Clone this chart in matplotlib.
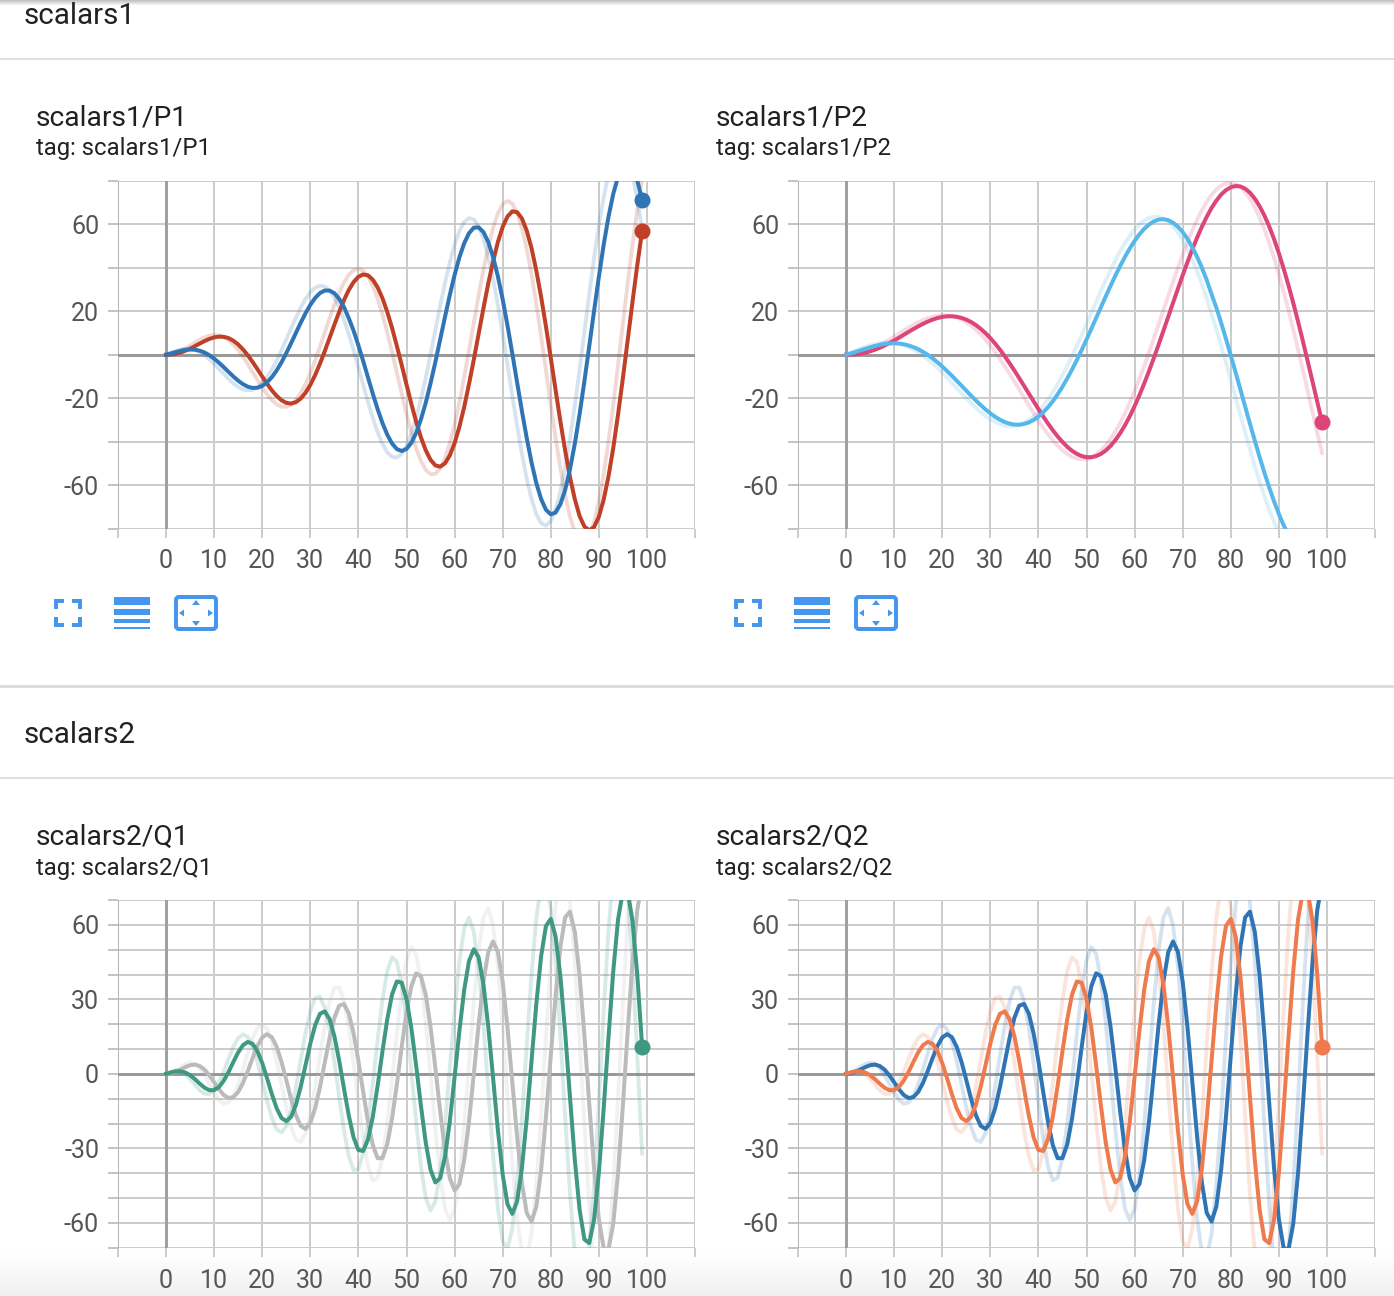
import numpy as np
import matplotlib
matplotlib.use('Agg')
import matplotlib.pyplot as plt
from matplotlib.patches import Rectangle, Polygon, FancyBboxPatch

plt.rcParams['font.family'] = ['Roboto', 'DejaVu Sans']

steps = list(range(100))

# scalars1/P1 raw and smoothed values
p1_red_raw = [0, .2, .8, 1.7, 2.9, 4.2, 5.6, 6.9, 8.0, 8.8, 9.1, 8.9, 8.1, 6.7, 4.7, 2.1, -.9, -4.4, -8.0, -11.6,
              -15.1, -18.3, -20.9, -22.9, -23.9, -24.0, -23.0, -20.9, -17.7, -13.5, -8.4, -2.6, 3.7, 10.3, 16.8, 23.0, 28.6, 33.3, 36.8, 39.0,
              39.6, 38.6, 35.9, 31.6, 25.7, 18.5, 10.3, 1.2, -8.4, -17.9, -27.2, -35.7, -43.1, -48.9, -53.0, -55.0, -54.8, -52.4, -47.7, -40.9,
              -32.2, -21.8, -10.3, 2.1, 14.8, 27.3, 39.1, 49.6, 58.4, 65.1, 69.4, 70.9, 69.6, 65.3, 58.3, 48.8, 37.0, 23.3, 8.4, -7.3,
              -23.0, -38.2, -52.3, -64.6, -74.6, -81.7, -85.8, -86.4, -83.5, -77.2, -67.6, -55.0, -40.0, -23.1, -4.6, 14.3, 32.9, 50.7, 66.8, 80.5]
p1_blue_raw = [0, 1.0, 1.8, 2.5, 2.8, 2.7, 2.2, 1.2, -.2, -2.0, -4.2, -6.5, -8.8, -11.1, -13.2, -14.9, -16.0, -16.4, -16.2, -15.0,
               -13.1, -10.3, -6.8, -2.6, 2.1, 7.1, 12.2, 17.1, 21.7, 25.7, 28.8, 30.9, 31.8, 31.4, 29.6, 26.4, 21.9, 16.2, 9.4, 2.1,
               -5.8, -13.9, -21.8, -29.2, -35.7, -41.0, -44.9, -47.0, -47.3, -45.6, -42.0, -36.4, -29.2, -20.4, -10.6, .2, 11.3, 22.5, 32.9, 42.5,
               50.6, 57.0, 61.1, 62.9, 62.3, 59.0, 53.2, 45.0, 34.9, 22.8, 9.6, -4.5, -18.7, -32.6, -45.6, -57.0, -66.4, -73.4, -77.5, -78.7,
               -76.6, -71.4, -63.1, -52.2, -38.6, -23.4, -6.8, 10.5, 27.8, 44.3, 59.4, 72.5, 82.9, 90.1, 93.9, 94.0, 90.1, 82.7, 71.7, 57.6]
p1_red = [0, .13, .46, 1.03, 1.83, 2.83, 3.96, 5.16, 6.3, 7.29, 7.99, 8.35, 8.25, 7.65, 6.45, 4.71, 2.45, -.28, -3.35, -6.66,
          -10.05, -13.36, -16.4, -18.97, -20.94, -22.16, -22.47, -21.84, -20.17, -17.5, -13.84, -9.34, -4.1, 1.66, 7.71, 13.84, 19.74, 25.15, 29.84, 33.47,
          35.9, 36.98, 36.55, 34.53, 31.02, 26.01, 19.71, 12.3, 4.0, -4.74, -13.75, -22.54, -30.75, -38.02, -43.98, -48.39, -50.95, -51.53, -50.01, -46.35,
          -40.72, -33.15, -24.02, -13.51, -2.22, 9.62, 21.4, 32.74, 42.95, 51.87, 58.86, 63.64, 66.03, 65.67, 62.75, 57.15, 49.11, 38.7, 26.63, 13.05,
          -1.38, -16.1, -30.61, -44.16, -56.41, -66.48, -74.27, -79.09, -80.85, -79.35, -74.64, -66.75, -56.11, -42.9, -27.5, -10.81, 6.68, 24.3, 41.32, 56.95]
p1_blue = [0, .61, 1.24, 1.81, 2.24, 2.43, 2.32, 1.86, 1.02, -.21, -1.79, -3.67, -5.74, -7.91, -10.02, -11.96, -13.55, -14.72, -15.29, -15.18,
           -14.34, -12.72, -10.33, -7.23, -3.5, .75, 5.33, 10.05, 14.73, 19.12, 22.98, 26.16, 28.4, 29.58, 29.55, 28.3, 25.73, 21.94, 16.79, 11.03,
           4.26, -2.98, -10.51, -18.0, -25.07, -31.45, -36.8, -40.89, -43.45, -44.32, -43.36, -40.57, -36.02, -29.75, -22.13, -13.15, -3.37, 7.01, 17.36, 27.46,
           36.72, 44.84, 51.33, 55.96, 58.5, 58.66, 56.48, 51.9, 45.12, 36.11, 25.53, 13.51, .62, -12.66, -25.87, -38.32, -49.54, -59.1, -66.45, -71.36,
           -73.48, -72.66, -68.83, -62.21, -52.7, -40.98, -27.34, -12.16, 3.85, 20.04, 35.77, 50.54, 63.45, 74.08, 82.05, 86.81, 88.1, 86.0, 80.28, 71.2]

# scalars1/P2 raw and smoothed values
p2_pink_raw = [0, .1, .4, .9, 1.6, 2.4, 3.4, 4.5, 5.7, 7.0, 8.4, 9.8, 11.2, 12.5, 13.8, 15.0, 16.0, 16.9, 17.5, 18.0,
               18.2, 18.1, 17.8, 17.2, 16.2, 15.0, 13.4, 11.5, 9.4, 6.9, 4.2, 1.3, -1.9, -5.2, -8.7, -12.3, -16.0, -19.6, -23.3, -26.8,
               -30.3, -33.6, -36.6, -39.4, -41.9, -44.0, -45.7, -47.0, -47.8, -48.1, -48.0, -47.2, -45.9, -44.1, -41.7, -38.8, -35.3, -31.4, -27.0, -22.1,
               -16.7, -11.1, -5.2, 1.1, 7.5, 14.0, 20.6, 27.1, 33.6, 39.9, 46.0, 51.8, 57.2, 62.1, 66.5, 70.4, 73.6, 76.1, 77.9, 78.9,
               79.1, 78.6, 77.2, 74.9, 71.8, 67.9, 63.1, 57.7, 51.5, 44.6, 37.1, 29.0, 20.5, 11.6, 2.4, -7.1, -16.8, -26.4, -35.9, -45.3]
p2_sky_raw = [0, 1.0, 2.0, 2.9, 3.7, 4.4, 5.0, 5.4, 5.6, 5.6, 5.4, 5.0, 4.3, 3.5, 2.4, 1.1, -.5, -2.2, -4.1, -6.1,
              -8.3, -10.6, -13.0, -15.3, -17.7, -20.0, -22.3, -24.4, -26.4, -28.2, -29.7, -31.0, -31.9, -32.6, -32.9, -32.8, -32.3, -31.4, -30.1, -28.3,
              -26.2, -23.6, -20.6, -17.2, -13.5, -9.5, -5.2, -.6, 4.2, 9.1, 14.2, 19.3, 24.4, 29.4, 34.3, 39.0, 43.5, 47.6, 51.4, 54.7,
              57.6, 60.0, 61.8, 63.0, 63.6, 63.5, 62.7, 61.3, 59.1, 56.3, 52.8, 48.6, 43.8, 38.4, 32.5, 26.0, 18.7, 11.8, 4.2, -3.6,
              -11.7, -19.7, -27.8, -35.8, -43.6, -51.2, -58.4, -65.1, -71.4, -77.0, -82.0, -86.2, -89.7, -92.3, -94.0, -94.7, -94.6, -93.4, -91.2, -88.0]
p2_pink = [0, .06, .23, .53, .98, 1.57, 2.32, 3.21, 4.23, 5.37, 6.56, 7.86, 9.19, 10.53, 11.83, 13.09, 14.24, 15.28, 16.18, 16.89,
           17.41, 17.7, 17.72, 17.5, 16.97, 16.17, 15.07, 13.65, 11.94, 9.94, 7.65, 5.12, 2.33, -.69, -3.9, -7.25, -10.73, -14.28, -17.86, -21.45,
           -24.98, -28.41, -31.7, -34.77, -37.62, -40.16, -42.39, -44.22, -45.64, -46.64, -47.16, -47.18, -46.67, -45.65, -44.1, -41.97, -39.31, -36.14, -32.49, -28.3,
           -23.66, -18.66, -13.25, -7.52, -1.51, 4.68, 11.06, 17.46, 23.92, 30.31, 36.59, 42.66, 48.47, 53.9, 58.96, 63.5, 67.58, 70.94, 73.75, 75.79,
           77.11, 77.7, 77.49, 76.44, 74.6, 71.89, 68.36, 64.1, 59.05, 53.27, 46.78, 39.69, 32.02, 23.84, 15.26, 6.28, -2.98, -12.31, -21.7, -31.17]
p2_sky = [0, .62, 1.3, 2.02, 2.74, 3.43, 4.06, 4.59, 4.98, 5.23, 5.28, 5.16, 4.84, 4.29, 3.52, 2.55, 1.34, -.07, -1.67, -3.47,
          -5.41, -7.49, -9.68, -11.93, -14.23, -16.55, -18.84, -21.06, -23.18, -25.17, -26.99, -28.58, -29.92, -30.99, -31.74, -32.16, -32.22, -31.87, -31.15, -30.01,
          -28.48, -26.51, -24.13, -21.38, -18.22, -14.74, -10.89, -6.78, -2.4, 2.22, 7.02, 11.92, 16.92, 21.89, 26.85, 31.69, 36.41, 40.86, 45.08, 48.91,
          52.39, 55.43, 57.99, 59.97, 61.4, 62.23, 62.41, 61.96, 60.79, 59.0, 56.52, 53.34, 49.51, 45.08, 40.06, 34.41, 27.91, 21.69, 14.71, 7.36,
          -.28, -8.04, -15.93, -23.89, -31.76, -39.53, -47.09, -54.28, -61.11, -67.47, -73.28, -78.47, -82.96, -86.68, -89.61, -91.65, -92.83, -93.01, -92.32, -90.56]

# scalars2 charts share the same two runs, only the colours differ
q_a_raw = [0, .9, 1.4, 1.1, -.1, -2.1, -4.4, -6.6, -8.0, -8.1, -6.5, -3.4, 1.0, 6.1, 10.9, 14.4, 15.9, 14.8, 10.9, 4.7,
           -2.9, -10.9, -17.8, -22.4, -23.6, -21.0, -14.6, -5.3, 5.7, 16.5, 25.3, 30.6, 31.1, 26.6, 17.4, 4.8, -9.4, -22.8, -33.2, -38.8,
           -38.3, -31.6, -19.3, -3.4, 13.9, 29.7, 41.4, 47.0, 45.1, 35.9, 20.4, 1.1, -19.2, -37.3, -49.9, -55.0, -51.4, -39.4, -20.6, 2.2,
           25.4, 45.3, 58.6, 62.9, 57.2, 42.1, 19.7, -6.4, -32.4, -53.9, -67.4, -70.4, -62.3, -43.9, -17.9, 11.6, 40.0, 62.8, 76.2, 77.7,
           66.7, 44.9, 15.3, -17.6, -48.3, -72.2, -85.0, -84.5, -70.4, -44.9, -11.5, 24.5, 57.3, 81.7, 93.5, 90.7, 73.3, 43.8, 6.9, -32.1]
q_b_raw = [0, .4, 1.4, 2.8, 4.0, 4.5, 4.1, 2.3, -.5, -4.0, -7.6, -10.5, -12.0, -11.5, -8.8, -4.2, 1.9, 8.4, 14.3, 18.4,
           19.8, 18.0, 12.9, 5.1, -4.2, -13.6, -21.5, -26.5, -27.4, -23.9, -16.1, -5.1, 7.4, 19.5, 29.2, 34.7, 34.8, 29.2, 18.5, 4.2,
           -11.5, -26.2, -37.3, -42.9, -41.8, -33.8, -20.0, -2.3, 16.5, 33.4, 45.6, 51.0, 48.3, 37.7, 20.6, -.5, -22.3, -41.2, -54.2, -58.9,
           -54.4, -40.7, -20.3, 4.2, 28.8, 49.6, 63.0, 66.7, 59.8, 43.1, 19.0, -8.9, -36.1, -58.3, -71.8, -74.1, -64.6, -44.5, -16.7, 14.5,
           44.1, 67.5, 80.6, 81.1, 68.7, 45.0, 13.5, -20.9, -52.8, -76.9, -89.3, -87.6, -71.9, -44.5, -9.3, 28.1, 61.9, 86.5, 97.8, 93.7]
q_a = [0, .58, .99, 1.04, .53, -.56, -2.15, -3.96, -5.58, -6.58, -6.54, -5.28, -2.75, .79, 4.83, 8.66, 11.56, 12.85, 12.07, 9.12,
       4.31, -1.77, -8.18, -13.87, -17.76, -19.06, -17.27, -12.48, -5.21, 3.47, 12.2, 19.56, 24.18, 25.15, 22.05, 15.15, 5.33, -5.92, -16.83, -25.62,
       -30.69, -31.05, -26.35, -17.17, -4.74, 9.04, 21.98, 31.99, 37.23, 36.7, 30.18, 18.55, 3.45, -12.85, -27.67, -38.6, -43.72, -41.99, -33.43, -19.18,
       -1.35, 17.31, 33.83, 45.46, 50.16, 46.94, 36.04, 19.06, -1.52, -22.47, -40.44, -52.42, -56.37, -51.38, -37.99, -18.15, 5.11, 28.19, 47.39, 59.51,
       62.39, 55.39, 39.35, 16.57, -9.38, -34.51, -54.71, -66.63, -68.14, -58.84, -39.9, -14.14, 14.44, 41.34, 62.2, 73.6, 73.48, 61.61, 39.73, 11.0]
q_b = [0, .24, .85, 1.75, 2.73, 3.47, 3.73, 3.15, 1.68, -.61, -3.42, -6.24, -8.54, -9.73, -9.36, -7.29, -3.62, 1.19, 6.43, 11.22,
       14.65, 15.99, 14.75, 10.89, 4.85, -2.53, -10.12, -16.67, -20.96, -22.14, -19.72, -13.87, -5.36, 4.58, 14.43, 22.54, 27.44, 28.14, 24.28, 16.25,
       5.15, -7.39, -19.35, -28.77, -33.98, -33.91, -28.35, -17.93, -4.16, 10.86, 24.76, 35.26, 40.48, 39.37, 31.86, 18.92, 2.43, -15.02, -30.69, -41.97,
       -46.94, -44.44, -34.78, -19.19, .01, 19.85, 37.11, 48.95, 53.29, 49.21, 37.13, 18.72, -3.21, -25.25, -43.87, -55.96, -59.42, -53.45, -38.75, -17.45,
       7.17, 31.3, 51.02, 63.05, 65.31, 57.19, 39.71, 15.47, -11.84, -37.86, -58.44, -70.1, -70.82, -60.29, -39.89, -12.69, 17.15, 44.89, 66.05, 77.11]

x_ticks = list(range(-10, 120, 10))
x_labels = ['' if t < 0 or t > 100 else str(t) for t in x_ticks]

RED, BLUE = '#bf3f27', '#2f75b5'
PINK, SKY = '#dd4479', '#56b8ea'
GREEN, GRAY, ORANGE = '#3f9881', '#bbbbbb', '#ef7a4d'
ICON = '#4796ee'
W, H = 1394, 1296

fig = plt.figure(figsize=(W / 100, H / 100), dpi=100, facecolor='white')


def px(n):
    # pixel length to points
    return n * 72 / 100


def make_chart(left, top, bottom, ylim, grid_step, labelled, series, marked):
    right = left + 577
    ax = fig.add_axes([left / W, 1 - bottom / H, (right - left) / W, (bottom - top) / H])
    ax.set_xlim(-10, 110)
    ax.set_ylim(-ylim, ylim)
    for sp in ax.spines.values():
        sp.set_visible(False)
    ax.set_xticks(x_ticks)
    ax.set_xticklabels(x_labels)
    y_ticks = list(range(-ylim, ylim + 1, grid_step))
    ax.set_yticks(y_ticks)
    ax.set_yticklabels([str(t) if t in labelled else '' for t in y_ticks])
    ax.tick_params(axis='x', length=px(9), width=px(1.5), color='#bdbdbd', pad=px(12), labelsize=px(25), labelcolor='#555555')
    ax.tick_params(axis='y', length=px(10), width=px(2), color='#c4c4c4', pad=px(9), labelsize=px(25), labelcolor='#555555')
    ax.grid(True, color='#cccccc', linewidth=px(2))
    ax.set_axisbelow(True)
    ax.axvline(-10, color='#b5b5b5', lw=px(2), zorder=1)
    ax.axhline(0, color='#999999', lw=px(3), zorder=1.5)
    ax.axvline(0, color='#a0a0a0', lw=px(3), zorder=1.5)
    for raw, smooth, color in series:
        ax.plot(steps, raw, color=color, lw=px(3.8), alpha=0.2, solid_joinstyle='round', zorder=2)
    for raw, smooth, color in series:
        ax.plot(steps, smooth, color=color, lw=px(4), solid_joinstyle='round', zorder=3)
    for smooth, color in marked:
        ax.plot(steps[-1], smooth[-1], 'o', color=color, ms=px(16), mew=0, zorder=4)
    return ax


make_chart(118, 181, 528.5, 80, 20, [60, 20, -20, -60],
           [(p1_red_raw, p1_red, RED), (p1_blue_raw, p1_blue, BLUE)],
           [(p1_red, RED), (p1_blue, BLUE)])
make_chart(798, 181, 528.5, 80, 20, [60, 20, -20, -60],
           [(p2_pink_raw, p2_pink, PINK), (p2_sky_raw, p2_sky, SKY)],
           [(p2_pink, PINK)])
make_chart(118, 900, 1247.7, 70, 10, [60, 30, 0, -30, -60],
           [(q_b_raw, q_b, GRAY), (q_a_raw, q_a, GREEN)],
           [(q_a, GREEN)])
make_chart(798, 900, 1247.7, 70, 10, [60, 30, 0, -30, -60],
           [(q_b_raw, q_b, BLUE), (q_a_raw, q_a, ORANGE)],
           [(q_a, ORANGE)])

# page furniture on a full-size overlay in pixel coordinates
page = fig.add_axes([0, 0, 1, 1], zorder=5)
page.set_xlim(0, W)
page.set_ylim(H, 0)
page.axis('off')
page.patch.set_alpha(0)

# shadows along the top and bottom edges
top_fade = np.zeros((8, 1, 4))
top_fade[:, 0, :3] = 0.55
top_fade[:, 0, 3] = np.linspace(0.55, 0, 8)
page.imshow(top_fade, extent=[0, W, 6, 0], aspect='auto', zorder=1)
bot_fade = np.zeros((46, 1, 4))
bot_fade[:, 0, :3] = 0.5
bot_fade[:, 0, 3] = np.linspace(0, 0.2, 46) ** 1.3
page.imshow(bot_fade, extent=[0, W, H, 1250], aspect='auto', zorder=1)
page.set_xlim(0, W)
page.set_ylim(H, 0)

# section separators
page.add_patch(Rectangle((0, 58), W, 2, color='#e0e0e0', lw=0))
page.add_patch(Rectangle((0, 685), W, 3, color='#dddddd', lw=0))
page.add_patch(Rectangle((0, 777), W, 2, color='#e0e0e0', lw=0))

page.text(24, 16, 'scalars1', fontsize=px(29.6), color='#212121', va='center')
page.text(24, 735, 'scalars2', fontsize=px(29.6), color='#212121', va='center')

titles = [(36, 118, 'scalars1/P1'), (716, 118, 'scalars1/P2'), (36, 837, 'scalars2/Q1'), (716, 837, 'scalars2/Q2')]
for tx, ty, name in titles:
    page.text(tx, ty, name, fontsize=px(28.2), color='#212121', va='center')
    page.text(tx, ty + 31, 'tag: ' + name, fontsize=px(23.9), color='#212121', va='center')


def draw_icons(dx):
    # expand icon: four corner brackets
    for cx, sx in [(54, 1), (82, -1)]:
        for cy, sy in [(599, 1), (627, -1)]:
            page.add_patch(Rectangle((dx + cx, cy), sx * 10, sy * 4, color=ICON, lw=0))
            page.add_patch(Rectangle((dx + cx, cy), sx * 4, sy * 10, color=ICON, lw=0))
    # log scale icon: bars getting thinner
    for y0, y1 in [(597, 605), (609, 615), (619, 623), (627, 629)]:
        page.add_patch(Rectangle((dx + 114, y0), 36, y1 - y0, color=ICON, lw=0))
    # fit domain icon: rounded frame with four small arrows
    page.add_patch(FancyBboxPatch((dx + 176, 597), 40, 32, boxstyle='round,pad=0,rounding_size=3',
                                  fc='none', ec=ICON, lw=px(4)))
    for pts in [[(192, 605), (200, 605), (196, 600)], [(192, 621), (200, 621), (196, 626)],
                [(184, 609.5), (184, 616.5), (179, 613)], [(208, 609.5), (208, 616.5), (213, 613)]]:
        page.add_patch(Polygon([(dx + a, b) for a, b in pts], color=ICON, lw=0))


draw_icons(0)
draw_icons(680)

fig.savefig('out.png', dpi=100, facecolor='white')
